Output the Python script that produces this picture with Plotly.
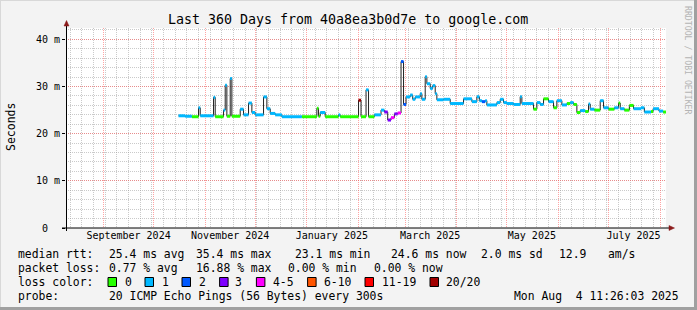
import plotly.graph_objects as go

# ---------------- data ----------------
dates = [
    "2024-10-16", "2024-10-20", "2024-10-24", "2024-10-28", "2024-10-29",
    "2024-11-06", "2024-11-07", "2024-11-12", "2024-11-13", "2024-11-14",
    "2024-11-16", "2024-11-17", "2024-11-22", "2024-11-24", "2024-11-27",
    "2024-11-29", "2024-12-01", "2024-12-06", "2024-12-08", "2024-12-10",
    "2024-12-13", "2024-12-17", "2024-12-29", "2025-01-07", "2025-01-08",
    "2025-01-09", "2025-01-12", "2025-01-20", "2025-01-21", "2025-02-01",
    "2025-02-02 12:00", "2025-02-05 12:00", "2025-02-07", "2025-02-10 12:00", "2025-02-14 12:00",
    "2025-02-16 12:00", "2025-02-18 12:00", "2025-02-20 12:00", "2025-02-22 12:00", "2025-02-24 12:00",
    "2025-02-26 12:00", "2025-02-28", "2025-03-01 12:00", "2025-03-04", "2025-03-05 12:00",
    "2025-03-07", "2025-03-10", "2025-03-11", "2025-03-13", "2025-03-14",
    "2025-03-16", "2025-03-17 12:00", "2025-03-19", "2025-03-20", "2025-03-24",
    "2025-03-28", "2025-04-05", "2025-04-10", "2025-04-13", "2025-04-14 12:00",
    "2025-04-16", "2025-04-18", "2025-04-19", "2025-04-25", "2025-04-27",
    "2025-04-29", "2025-05-01", "2025-05-05", "2025-05-09", "2025-05-10",
    "2025-05-17", "2025-05-19", "2025-05-21", "2025-05-23", "2025-05-26",
    "2025-05-29", "2025-05-31", "2025-06-03", "2025-06-06", "2025-06-08",
    "2025-06-10", "2025-06-12", "2025-06-14", "2025-06-17", "2025-06-19",
    "2025-06-20", "2025-06-22 12:00", "2025-06-26", "2025-06-28", "2025-07-01",
    "2025-07-04 12:00", "2025-07-07", "2025-07-08", "2025-07-10 12:00", "2025-07-13 12:00",
    "2025-07-16", "2025-07-20 12:00", "2025-07-22 12:00", "2025-07-26 12:00", "2025-07-27 18:00",
    "2025-07-31 06:00", "2025-08-02 18:00",
]
median_ms = [
    23.8, 23.7, 23.6, 25.5, 23.8,
    27.7, 23.6, 25.0, 30.3, 23.7,
    31.7, 23.7, 25.2, 24.0, 26.5,
    24.5, 24.0, 27.8, 25.3, 24.3,
    24.0, 23.6, 23.6, 25.4, 23.7,
    24.5, 23.6, 24.0, 23.6, 27.1,
    23.6, 29.3, 23.6, 24.0, 25.0,
    24.6, 22.9, 23.4, 24.2, 24.4,
    35.3, 26.2, 27.8, 28.2, 27.3,
    27.8, 28.5, 27.3, 32.1, 30.6,
    29.6, 30.2, 28.5, 27.2, 27.3,
    26.4, 27.4, 26.8, 27.85, 27.0,
    26.8, 27.0, 26.1, 26.6, 27.3,
    26.6, 26.4, 26.2, 27.85, 26.4,
    25.2, 26.6, 26.2, 27.4, 26.8,
    25.5, 27.0, 26.1, 26.4, 26.6,
    26.2, 24.5, 24.9, 24.7, 26.3,
    25.2, 25.0, 27.0, 25.5, 25.2,
    25.5, 26.5, 25.3, 25.0, 26.0,
    25.3, 25.5, 24.6, 24.7, 25.3,
    24.8, 24.6,
]
loss_level = [
    1, 1, 0, 1, 1,
    1, 0, 1, 1, 0,
    1, 0, 1, 1, 1,
    1, 1, 1, 1, 1,
    1, 1, 0, 0, 0,
    1, 0, 1, 0, 7,
    0, 1, 0, 1, 1,
    3, 3, 4, 3, 4,
    2, 2, 1, 1, 1,
    1, 1, 1, 1, 1,
    1, 1, 1, 1, 1,
    1, 1, 1, 1, 1,
    2, 1, 1, 1, 1,
    1, 1, 1, 1, 1,
    0, 1, 1, 0, 1,
    0, 1, 1, 0, 1,
    0, 0, 1, 0, 1,
    1, 0, 1, 1, 0,
    1, 0, 1, 0, 0,
    1, 1, 1, 0, 1,
    1, 0,
]

loss_labels = ["0", "1", "2", "3", "4-5", "6-10", "11-19", "20/20"]
loss_colors = ["#26ff00", "#00b8ff", "#0059ff", "#7e00ff", "#ff00ff", "#ff5500", "#ff0000", "#a10000"]

range_start = "2024-08-09 11:26:03"
range_end = "2025-08-04 11:26:03"

month_starts = ["2024-09-01", "2024-10-01", "2024-11-01", "2024-12-01", "2025-01-01", "2025-02-01",
                "2025-03-01", "2025-04-01", "2025-05-01", "2025-06-01", "2025-07-01", "2025-08-01"]
xlabel_dates = ["2024-09-16", "2024-11-16", "2025-01-16", "2025-03-16", "2025-05-16", "2025-07-16"]
xlabel_text = ["September 2024", "November 2024", "January 2025", "March 2025", "May 2025", "July 2025"]

ytick_vals = [0, 10, 20, 30, 40]
ytick_text = ["0\u00a0\u00a0", "10 m", "20 m", "30 m", "40 m"]

stats_rtt = ["25.4 ms avg", "35.4 ms max", "23.1 ms min", "24.6 ms now", "2.0 ms sd", "12.9", "am/s"]
stats_loss = ["0.77 % avg", "16.88 % max", "0.00 % min", "0.00 % now"]
probe_text = "20 ICMP Echo Pings (56 Bytes) every 300s"
stamp_text = "Mon Aug  4 11:26:03 2025"
title_text = "Last 360 Days from 40a8ea3b0d7e to google.com"

# ---------------- layout geometry ----------------
W, H = 697, 310
ML, MR, MT, MB = 66, 31, 28, 82
PW, PH = W - ML - MR, H - MT - MB
YMAX = 42.42
MONO = "DejaVu Sans Mono"
MAJOR = "rgba(255,90,90,0.55)"
MINOR = "rgba(150,150,150,0.5)"


def px(x):
    return (x - ML) / PW


def py(y):
    return (H - MB - y) / PH


fig = go.Figure()

# black median line (step)
fig.add_trace(go.Scatter(
    x=dates + [range_end], y=median_ms + [median_ms[-1]],
    mode="lines", line=dict(color="#202020", width=1, shape="hv"),
    hoverinfo="skip", showlegend=False))

# coloured horizontal bands by loss level
ends = dates[1:] + [range_end]
for lvl, col in enumerate(loss_colors):
    xs, ys = [], []
    for d0, d1, v, l in zip(dates, ends, median_ms, loss_level):
        if l == lvl:
            xs += [d0, d1, None]
            ys += [v, v, None]
    if xs:
        fig.add_trace(go.Scatter(x=xs, y=ys, mode="lines",
                                 line=dict(color=col, width=3),
                                 hoverinfo="skip", showlegend=False))

# invisible trace to carry the label axis
fig.add_trace(go.Scatter(x=[range_start, range_end], y=[0, 0], xaxis="x2", mode="lines",
                         line=dict(width=0), opacity=0, hoverinfo="skip", showlegend=False))

fig.update_layout(
    width=W, height=H,
    margin=dict(l=ML, r=MR, t=MT, b=MB, pad=0),
    paper_bgcolor="#f3f3f3", plot_bgcolor="#ffffff",
    showlegend=False,
    font=dict(family=MONO, size=10, color="#000000"),
    xaxis=dict(type="date", range=[range_start, range_end],
               tickmode="array", tickvals=month_starts, showticklabels=False,
               showgrid=True, gridcolor=MAJOR, griddash="1px,1px", gridwidth=1,
               minor=dict(tickmode="linear", tick0="2024-08-05", dtick=7 * 86400000,
                          showgrid=True, gridcolor=MINOR, griddash="1px,1px"),
               zeroline=False, showline=False, ticks=""),
    xaxis2=dict(type="date", range=[range_start, range_end], overlaying="x", side="bottom",
                anchor="y", tickmode="array", tickvals=xlabel_dates, ticktext=xlabel_text,
                showgrid=False, zeroline=False, showline=False, ticks="",
                tickfont=dict(family=MONO, size=10, color="#000000")),
    yaxis=dict(range=[0, YMAX], tickmode="array", tickvals=ytick_vals, ticktext=ytick_text,
               showgrid=True, gridcolor=MAJOR, griddash="1px,1px",
               minor=dict(tickmode="linear", tick0=0, dtick=2, showgrid=True,
                          gridcolor=MINOR, griddash="1px,1px"),
               zeroline=False, showline=False, ticks="outside", ticklen=3, tickcolor="#000000",
               tickfont=dict(family=MONO, size=10, color="#000000")),
)

shapes = []
# axis lines
shapes.append(dict(type="line", xref="paper", yref="paper", x0=px(62), x1=px(670), y0=py(228), y1=py(228),
                   line=dict(color="#000000", width=1)))
shapes.append(dict(type="line", xref="paper", yref="paper", x0=px(66.5), x1=px(66.5), y0=py(231), y1=py(25),
                   line=dict(color="#000000", width=1)))
# arrow heads
shapes.append(dict(type="path", xref="paper", yref="paper",
                   path=f"M {px(64)} {py(26)} L {px(69)} {py(26)} L {px(66.5)} {py(20.5)} Z",
                   fillcolor="#8b1a1a", line=dict(color="#8b1a1a", width=0.5)))
shapes.append(dict(type="path", xref="paper", yref="paper",
                   path=f"M {px(669)} {py(225.5)} L {px(669)} {py(230.5)} L {px(674.5)} {py(228)} Z",
                   fillcolor="#8b1a1a", line=dict(color="#8b1a1a", width=0.5)))
# frame shading (right / bottom dark, top / left light)
shapes.append(dict(type="rect", xref="paper", yref="paper", x0=px(694), x1=px(697), y0=py(310), y1=py(0),
                   fillcolor="#a0a0a0", line=dict(width=0)))
shapes.append(dict(type="rect", xref="paper", yref="paper", x0=px(0), x1=px(697), y0=py(310), y1=py(307),
                   fillcolor="#a0a0a0", line=dict(width=0)))
shapes.append(dict(type="rect", xref="paper", yref="paper", x0=px(0), x1=px(694), y0=py(1), y1=py(0),
                   fillcolor="#d8d8d8", line=dict(width=0)))
shapes.append(dict(type="rect", xref="paper", yref="paper", x0=px(0), x1=px(1), y0=py(307), y1=py(0),
                   fillcolor="#d8d8d8", line=dict(width=0)))

# loss colour boxes
box_x = [108, 145, 182, 219.6, 256.4, 307.6, 365, 430]
lab_x = [123.6, 160, 197, 233.8, 271, 322, 380, 444]
for bx, col in zip(box_x, loss_colors):
    shapes.append(dict(type="rect", xref="paper", yref="paper", x0=px(bx), x1=px(bx + 8.5),
                       y0=py(286.5), y1=py(277.5), fillcolor=col, line=dict(color="#000000", width=1)))
fig.update_layout(shapes=shapes)

ann = []
LF = 11.4


def text(x, y, s, size=LF, anchor="left", color="#000000", angle=0, family=MONO):
    ann.append(dict(x=px(x), y=py(y), xref="paper", yref="paper", text=s, showarrow=False,
                    xanchor=anchor, yanchor="middle", textangle=angle,
                    font=dict(family=family, size=size, color=color)))


text(347.5, 19.5, title_text, size=13.3, anchor="center")
text(10.5, 127.5, "Seconds", size=11.5, anchor="center", angle=-90)
text(688, 60, "RRDTOOL / TOBI OETIKER", size=8.2, anchor="center", angle=90, color="#b4b4b4")

text(15.5, 254.3, "median rtt:")
for x, s in zip([107, 193.5, 292.5, 389, 478.5, 557, 606], stats_rtt):
    text(x, 254.3, s)
text(15.5, 268.3, "packet loss:")
for x, s in zip([107, 193.5, 286, 371.5], stats_loss):
    text(x, 268.3, s)
text(15.5, 282.3, "loss color:")
for x, s in zip(lab_x, loss_labels):
    text(x - 0.5, 282.3, s)
text(15.5, 296.3, "probe:")
text(107, 296.3, probe_text)
text(511.5, 296.3, stamp_text)

fig.update_layout(annotations=ann)

fig.write_html("out.html")
